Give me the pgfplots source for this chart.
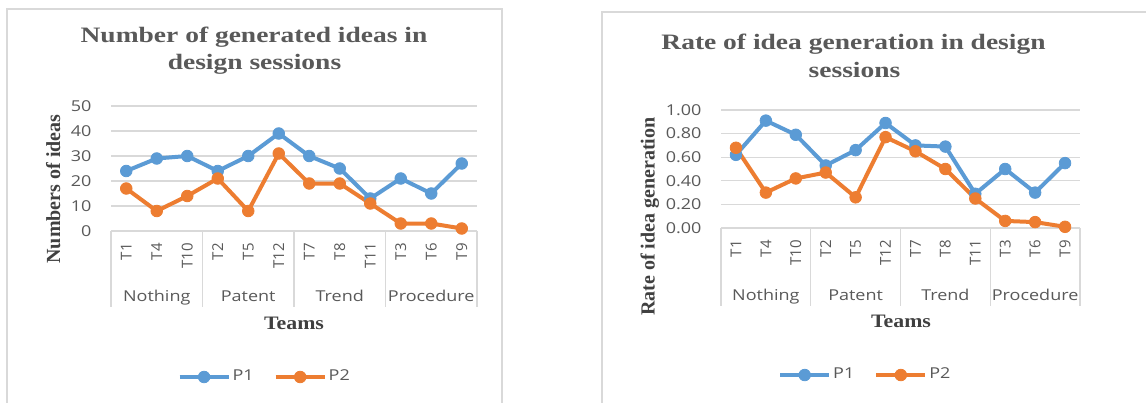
\documentclass[border=0pt]{standalone}
\usepackage{graphicx}
\usepackage{pgfplots}
\pgfplotsset{compat=1.18}
\usepackage{fontspec}
\setmainfont{Liberation Serif}
\newfontfamily\osans{Open Sans}
\definecolor{pblue}{HTML}{5B9BD5}
\definecolor{porange}{HTML}{ED7D31}
\definecolor{gridc}{HTML}{D9D9D9}
\definecolor{txt}{HTML}{595959}
\definecolor{ttl}{HTML}{595959}
\definecolor{lab}{HTML}{404040}
\newcommand{\tfont}{\osans\fontsize{7.5}{9}\selectfont}
\newcommand{\sx}[1]{\scalebox{1.2}[1]{#1}}

\pgfplotsset{
  mystyle/.style={
    scale only axis, anchor=south west, clip=false,
    xmin=-0.5, xmax=11.5,
    xtick={0,...,11}, xticklabels={T1,T4,T10,T2,T5,T12,T7,T8,T11,T3,T6,T9},
    axis line style={draw=none},
    major tick length=0pt, tick style={draw=none},
    ymajorgrids, grid style={gridc, line width=0.6pt},
    /pgf/number format/assume math mode=true,
    ticklabel style={font=\tfont, text=txt},
    yticklabel style={anchor=east, inner sep=0pt, xshift=-9.5pt, xscale=1.2},
    xticklabel style={rotate=90, anchor=east, inner xsep=6pt, inner ysep=0pt},
    legend columns=2,
    legend style={draw=none, fill=none, font=\tfont, text=txt, anchor=center,
      nodes={inner xsep=1pt},
      /tikz/every even column/.append style={column sep=9pt}},
    legend image code/.code={\draw[##1, mark repeat=2, mark phase=2] plot coordinates {(0pt,0pt) (12.25pt,0pt) (24.5pt,0pt)};},
  },
  s1/.style={pblue, line width=2pt, mark=*, mark size=2.9pt, mark options={solid, fill=pblue, draw=pblue, line width=0.4pt}},
  s2/.style={porange, line width=2pt, mark=*, mark size=2.9pt, mark options={solid, fill=porange, draw=porange, line width=0.4pt}},
}

\begin{document}
\begin{tikzpicture}[x=0.5pt,y=0.5pt]
\useasboundingbox (0,0) rectangle (1146,402);
\fill[white] (0,0) rectangle (1146,402);
\draw[gridc, line width=0.75pt] (7,-5) -- (7,393) -- (502,393) -- (502,-5);
\draw[gridc, line width=0.75pt] (602,-5) -- (602,390) -- (1160,390);

% ---------------- left chart ----------------
\begin{axis}[mystyle, at={(55.5pt,85.5pt)}, width=183pt, height=62.5pt,
  ymin=0, ymax=50, ytick={0,10,20,30,40,50},
  legend style={at={(0.42,-1.168)}}]
\addplot[s1] coordinates {(0,24) (1,29) (2,30) (3,24) (4,30) (5,39) (6,30) (7,25) (8,13) (9,21) (10,15) (11,27)};
\addplot[s2] coordinates {(0,17) (1,8) (2,14) (3,21) (4,8) (5,31) (6,19) (7,19) (8,11) (9,3) (10,3) (11,1)};
\legend{\sx{P1},\sx{P2}}
\draw[gridc, line width=0.6pt] (axis cs:-0.5,0) -- ++(0pt,-38pt);
\draw[gridc, line width=0.6pt] (axis cs:2.5,0) -- ++(0pt,-38pt);
\draw[gridc, line width=0.6pt] (axis cs:5.5,0) -- ++(0pt,-38pt);
\draw[gridc, line width=0.6pt] (axis cs:8.5,0) -- ++(0pt,-38pt);
\draw[gridc, line width=0.6pt] (axis cs:11.5,0) -- ++(0pt,-38pt);
\node[font=\tfont, text=txt, anchor=base, yshift=-35.3pt, xscale=1.2] at (axis cs:1,0) {Nothing};
\node[font=\tfont, text=txt, anchor=base, yshift=-35.3pt, xscale=1.2] at (axis cs:4,0) {Patent};
\node[font=\tfont, text=txt, anchor=base, yshift=-35.3pt, xscale=1.2] at (axis cs:7,0) {Trend};
\node[font=\tfont, text=txt, anchor=base, yshift=-35.3pt, xscale=1.2] at (axis cs:10,0) {Procedure};
\end{axis}

% ---------------- right chart ----------------
\begin{axis}[mystyle, at={(360.5pt,87pt)}, width=179.5pt, height=59pt,
  ymin=0, ymax=1, ytick={0,0.2,0.4,0.6,0.8,1},
  yticklabels={0.00,0.20,0.40,0.60,0.80,1.00},
  legend style={at={(0.402,-1.246)}}]
\addplot[s1] coordinates {(0,0.62) (1,0.91) (2,0.79) (3,0.53) (4,0.66) (5,0.89) (6,0.70) (7,0.69) (8,0.29) (9,0.50) (10,0.30) (11,0.55)};
\addplot[s2] coordinates {(0,0.68) (1,0.30) (2,0.42) (3,0.47) (4,0.26) (5,0.77) (6,0.65) (7,0.50) (8,0.25) (9,0.06) (10,0.05) (11,0.01)};
\legend{\sx{P1},\sx{P2}}
\draw[gridc, line width=0.6pt] (axis cs:-0.5,0) -- ++(0pt,-39pt);
\draw[gridc, line width=0.6pt] (axis cs:2.5,0) -- ++(0pt,-39pt);
\draw[gridc, line width=0.6pt] (axis cs:5.5,0) -- ++(0pt,-39pt);
\draw[gridc, line width=0.6pt] (axis cs:8.5,0) -- ++(0pt,-39pt);
\draw[gridc, line width=0.6pt] (axis cs:11.5,0) -- ++(0pt,-39pt);
\node[font=\tfont, text=txt, anchor=base, yshift=-36pt, xscale=1.2] at (axis cs:1,0) {Nothing};
\node[font=\tfont, text=txt, anchor=base, yshift=-36pt, xscale=1.2] at (axis cs:4,0) {Patent};
\node[font=\tfont, text=txt, anchor=base, yshift=-36pt, xscale=1.2] at (axis cs:7,0) {Trend};
\node[font=\tfont, text=txt, anchor=base, yshift=-36pt, xscale=1.2] at (axis cs:10,0) {Procedure};
\end{axis}

% ---------------- titles and axis titles ----------------
\tikzset{ttlstyle/.style={font=\bfseries\fontsize{11}{13}\selectfont, text=ttl, anchor=base, xscale=1.25}}
\node[ttlstyle] at (254,359) {Number of generated ideas in};
\node[ttlstyle] at (254.5,332) {design sessions};
\node[ttlstyle] at (853.5,352) {Rate of idea generation in design};
\node[ttlstyle] at (854.5,324) {sessions};

\node[font=\bfseries\fontsize{10}{12}\selectfont, text=lab, rotate=90, anchor=base] at (60,213) {Numbers of ideas};
\node[font=\bfseries\fontsize{10}{12}\selectfont, text=lab, rotate=90, anchor=base] at (654.7,185.5) {Rate of idea generation};

\node[font=\bfseries\fontsize{9.5}{11}\selectfont, text=lab, anchor=base, xscale=1.15] at (294,72.7) {Teams};
\node[font=\bfseries\fontsize{9.5}{11}\selectfont, text=lab, anchor=base, xscale=1.15] at (901,74.7) {Teams};
\end{tikzpicture}
\end{document}
